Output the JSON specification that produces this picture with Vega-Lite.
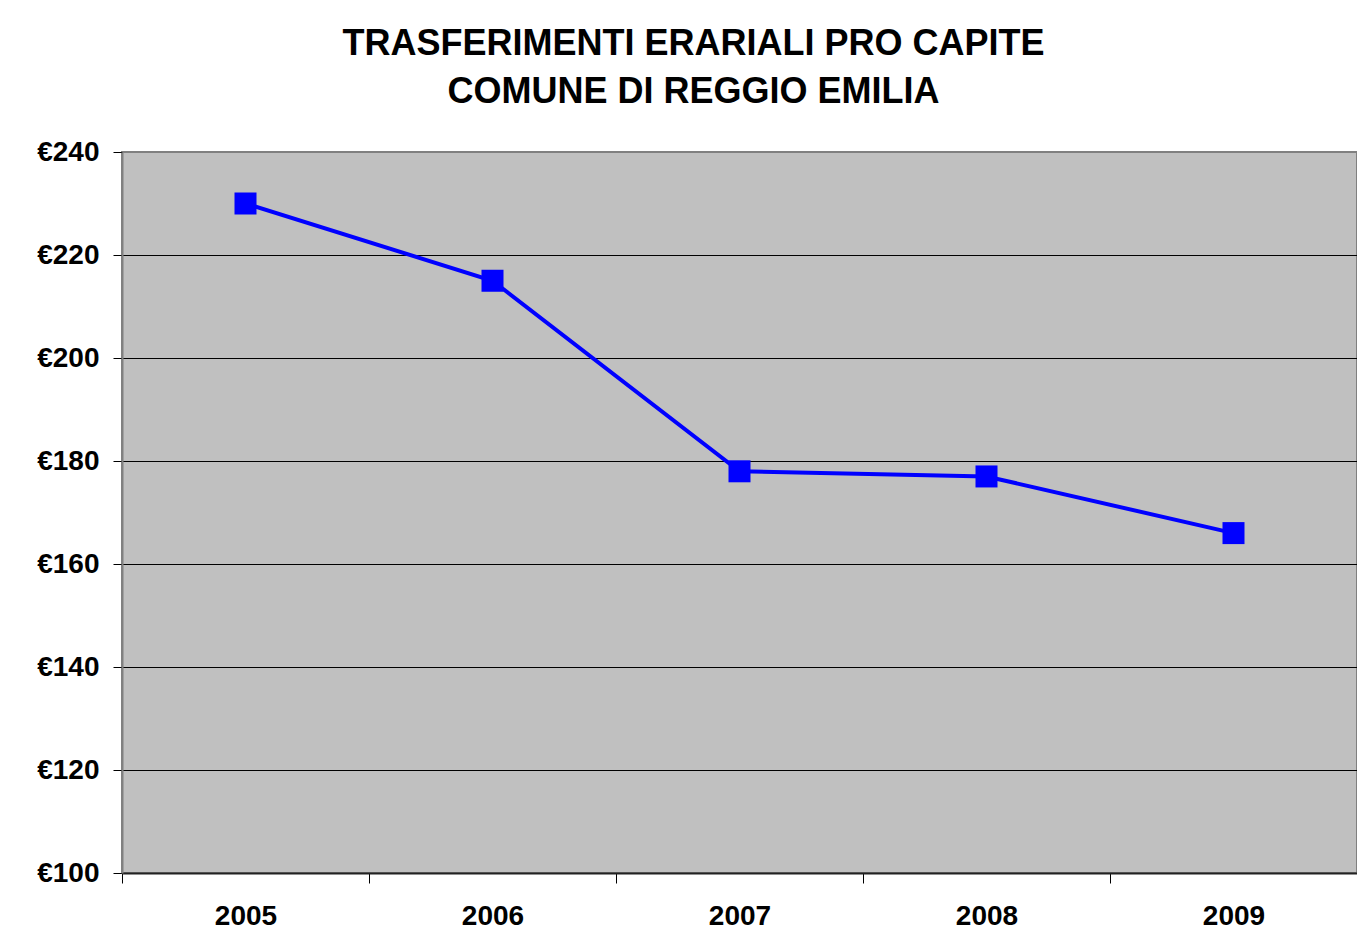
{
  "$schema": "https://vega.github.io/schema/vega-lite/v6.json",
  "width": 1235,
  "height": 721,
  "autosize": {"type": "none"},
  "padding": {"left": 122, "top": 152, "right": 0, "bottom": 63},
  "background": "white",
  "title": {
    "text": ["TRASFERIMENTI ERARIALI PRO CAPITE", "COMUNE DI REGGIO EMILIA"],
    "font": "Liberation Sans",
    "fontSize": 36,
    "fontWeight": "bold",
    "color": "black",
    "anchor": "middle",
    "frame": "group",
    "dx": -46,
    "lineHeight": 48,
    "offset": 27
  },
  "data": {
    "values": [
      {"anno": "2005", "valore": 230},
      {"anno": "2006", "valore": 215},
      {"anno": "2007", "valore": 178},
      {"anno": "2008", "valore": 177},
      {"anno": "2009", "valore": 166}
    ]
  },
  "encoding": {
    "x": {
      "field": "anno",
      "type": "ordinal",
      "bandPosition": 0.5,
      "scale": {"type": "band", "paddingInner": 0, "paddingOuter": 0},
      "axis": {
        "title": null,
        "labelAngle": 0,
        "labelFont": "Liberation Sans",
        "labelFontSize": 28,
        "labelFontWeight": "bold",
        "labelColor": "black",
        "labelPadding": 19,
        "tickBand": "extent",
        "tickSize": 10,
        "tickColor": "black",
        "tickWidth": 1,
        "domainColor": "#222222",
        "domainWidth": 2,
        "grid": false
      }
    },
    "y": {
      "field": "valore",
      "type": "quantitative",
      "scale": {"domain": [100, 240], "nice": false, "zero": false},
      "axis": {
        "title": null,
        "values": [100, 120, 140, 160, 180, 200, 220, 240],
        "labelExpr": "'€' + datum.value",
        "labelFont": "Liberation Sans",
        "labelFontSize": 28,
        "labelFontWeight": "bold",
        "labelColor": "black",
        "labelPadding": 14,
        "tickSize": 9,
        "tickColor": "black",
        "tickWidth": 1,
        "domainColor": "#808080",
        "domainWidth": 2,
        "grid": true,
        "gridColor": {"condition": {"test": "datum.value == 240", "value": "#808080"}, "value": "#000000"},
        "gridWidth": 1,
        "gridOpacity": 1
      }
    }
  },
  "layer": [
    {"mark": {"type": "line", "color": "#0000FF", "strokeWidth": 4}},
    {"mark": {"type": "point", "shape": "square", "size": 484, "filled": true, "color": "#0000FF", "opacity": 1}}
  ],
  "config": {
    "view": {"fill": "#C0C0C0", "stroke": "#808080", "strokeWidth": 2}
  }
}
